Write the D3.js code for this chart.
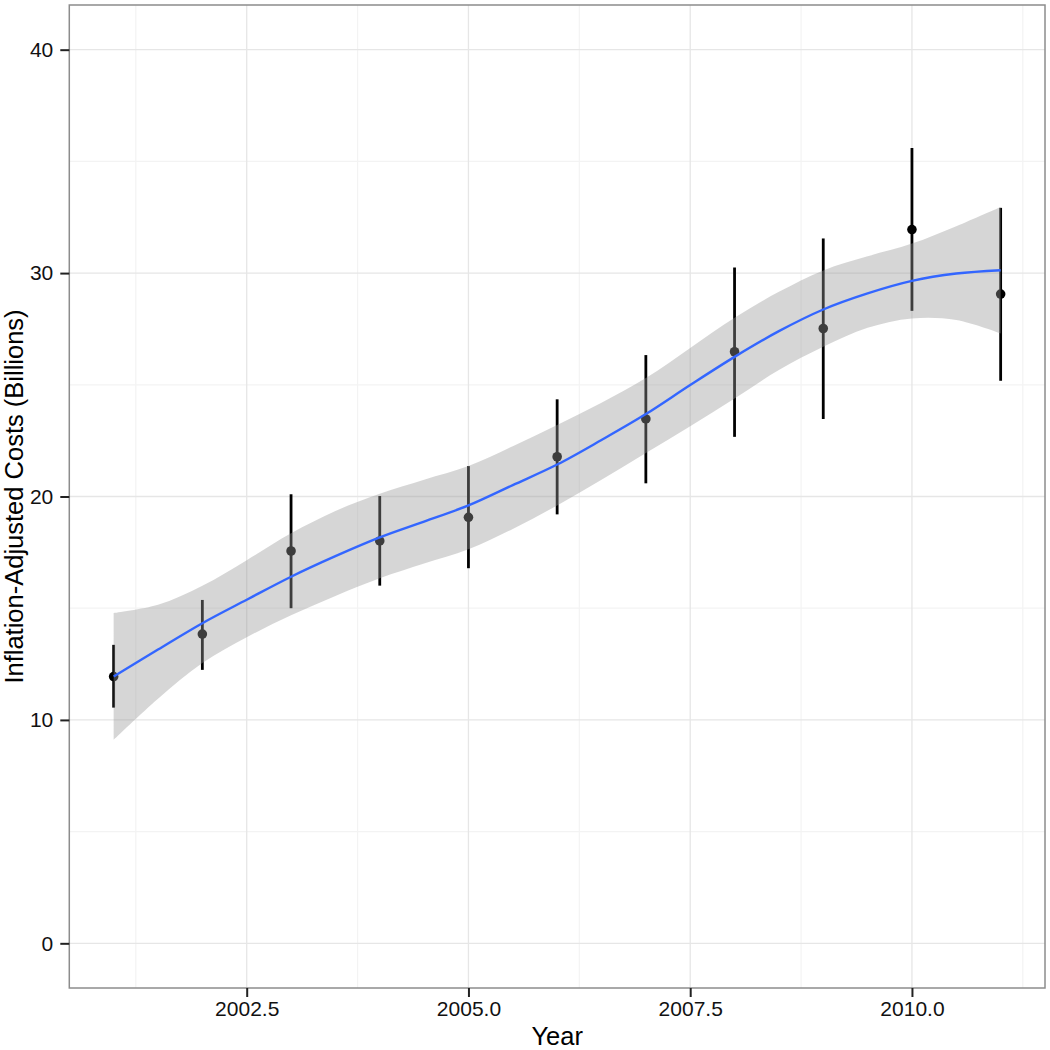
<!DOCTYPE html>
<html>
<head>
<meta charset="utf-8">
<script src="https://cdn.jsdelivr.net/npm/d3@7"></script>
<style>
  html, body { margin: 0; padding: 0; background: #fff; }
  svg { display: block; }
  text { font-family: "Liberation Sans", Arial, Helvetica, sans-serif; }
</style>
</head>
<body>
<svg id="chart" width="1050" height="1050"></svg>
<script>
// ---- data ----
const years = [2001, 2002, 2003, 2004, 2005, 2006, 2007, 2008, 2009, 2010, 2011];
const costs = [11.94, 13.84, 17.56, 18.01, 19.07, 21.78, 23.47, 26.48, 27.52, 31.95, 29.06];
const costLow = [10.55, 12.24, 15.0, 16.01, 16.79, 19.2, 20.59, 22.67, 23.47, 28.31, 25.18];
const costHigh = [13.36, 15.37, 20.1, 20.02, 21.36, 24.35, 26.33, 30.25, 31.55, 35.6, 32.92];

// loess smooth with confidence band
const smoothX = [2001, 2001.5, 2002, 2002.5, 2003, 2003.5, 2004, 2004.5, 2005, 2005.5, 2006,
                 2006.5, 2007, 2007.5, 2008, 2008.5, 2009, 2009.5, 2010, 2010.5, 2011];
const smoothFit = [11.94, 13.15, 14.33, 15.38, 16.41, 17.33, 18.17, 18.88, 19.6, 20.51, 21.43,
                   22.53, 23.69, 24.99, 26.25, 27.4, 28.37, 29.09, 29.65, 29.98, 30.13];
const smoothLow = [9.11, 10.95, 12.55, 13.7, 14.68, 15.55, 16.34, 17.0, 17.64, 18.55, 19.6,
                   20.75, 21.95, 23.15, 24.39, 25.66, 26.7, 27.55, 27.97, 27.9, 27.3];
const smoothHigh = [14.78, 15.15, 16.0, 17.15, 18.35, 19.35, 20.12, 20.75, 21.36, 22.25, 23.2,
                    24.2, 25.3, 26.65, 28.0, 29.16, 30.12, 30.75, 31.32, 32.1, 32.96];

const xTicks = [2002.5, 2005.0, 2007.5, 2010.0];
const xMinor = [2001.25, 2003.75, 2006.25, 2008.75, 2011.25];
const yTicks = [0, 10, 20, 30, 40];
const yMinor = [5, 15, 25, 35];
const xTitle = "Year";
const yTitle = "Inflation-Adjusted Costs (Billions)";

// ---- layout ----
const panel = { left: 69.3, right: 1045, top: 5, bottom: 988 };
const svg = d3.select("#chart");

const x = d3.scaleLinear().domain([2000.5, 2011.5]).range([panel.left, panel.right]);
const y = d3.scaleLinear().domain([-2, 42]).range([panel.bottom, panel.top]);

// background
svg.append("rect").attr("x", panel.left).attr("y", panel.top)
  .attr("width", panel.right - panel.left).attr("height", panel.bottom - panel.top)
  .attr("fill", "#fff");

// grid
const grid = svg.append("g");
grid.selectAll(".xmin").data(xMinor).join("line")
  .attr("x1", d => x(d)).attr("x2", d => x(d)).attr("y1", panel.top).attr("y2", panel.bottom)
  .attr("stroke", "#f3f3f3").attr("stroke-width", 1.2);
grid.selectAll(".ymin").data(yMinor).join("line")
  .attr("y1", d => y(d)).attr("y2", d => y(d)).attr("x1", panel.left).attr("x2", panel.right)
  .attr("stroke", "#f3f3f3").attr("stroke-width", 1.2);
grid.selectAll(".xmaj").data(xTicks).join("line")
  .attr("x1", d => x(d)).attr("x2", d => x(d)).attr("y1", panel.top).attr("y2", panel.bottom)
  .attr("stroke", "#e6e6e6").attr("stroke-width", 1.3);
grid.selectAll(".ymaj").data(yTicks).join("line")
  .attr("y1", d => y(d)).attr("y2", d => y(d)).attr("x1", panel.left).attr("x2", panel.right)
  .attr("stroke", "#e6e6e6").attr("stroke-width", 1.3);

// error bars and points
const pts = years.map((yr, i) => ({ yr, v: costs[i], lo: costLow[i], hi: costHigh[i] }));
svg.append("g").selectAll("line").data(pts).join("line")
  .attr("x1", d => x(d.yr)).attr("x2", d => x(d.yr))
  .attr("y1", d => y(d.lo)).attr("y2", d => y(d.hi))
  .attr("stroke", "#000").attr("stroke-width", 2.8);
svg.append("g").selectAll("circle").data(pts).join("circle")
  .attr("cx", d => x(d.yr)).attr("cy", d => y(d.v)).attr("r", 4.8)
  .attr("fill", "#000");

// ribbon
const sm = smoothX.map((s, i) => ({ s, f: smoothFit[i], lo: smoothLow[i], hi: smoothHigh[i] }));
svg.append("path").datum(sm)
  .attr("d", d3.area().x(d => x(d.s)).y0(d => y(d.lo)).y1(d => y(d.hi)).curve(d3.curveCatmullRom))
  .attr("fill", "#999999").attr("fill-opacity", 0.4);
svg.append("path").datum(sm)
  .attr("d", d3.line().x(d => x(d.s)).y(d => y(d.f)).curve(d3.curveCatmullRom))
  .attr("fill", "none").attr("stroke", "#3366FF").attr("stroke-width", 2.4);

// panel border
svg.append("rect").attr("x", panel.left).attr("y", panel.top)
  .attr("width", panel.right - panel.left).attr("height", panel.bottom - panel.top)
  .attr("fill", "none").attr("stroke", "#8c8c8c").attr("stroke-width", 1.5);

// axes
const xAxis = d3.axisBottom(x).tickValues(xTicks).tickFormat(d3.format(".1f"))
  .tickSize(9).tickPadding(4);
const gx = svg.append("g").attr("transform", `translate(0,${panel.bottom})`).call(xAxis);
gx.select(".domain").remove();
gx.selectAll(".tick line").attr("stroke", "#222").attr("stroke-width", 2);
gx.selectAll(".tick text").attr("font-size", 21).attr("fill", "#111")
  .attr("font-family", "'Liberation Sans', Arial, sans-serif").attr("dy", "0.73em");

const yAxis = d3.axisLeft(y).tickValues(yTicks).tickFormat(d3.format("d"))
  .tickSize(9).tickPadding(7);
const gy = svg.append("g").attr("transform", `translate(${panel.left},0)`).call(yAxis);
gy.select(".domain").remove();
gy.selectAll(".tick line").attr("stroke", "#222").attr("stroke-width", 2);
gy.selectAll(".tick text").attr("font-size", 21).attr("fill", "#111")
  .attr("font-family", "'Liberation Sans', Arial, sans-serif");

// titles
svg.append("text").attr("x", (panel.left + panel.right) / 2).attr("y", 1045)
  .attr("text-anchor", "middle").attr("font-size", 25.5).attr("fill", "#000").text(xTitle);
svg.append("text")
  .attr("transform", `translate(23,${(panel.top + panel.bottom) / 2}) rotate(-90)`)
  .attr("text-anchor", "middle").attr("font-size", 25.5).attr("fill", "#000").text(yTitle);
</script>
</body>
</html>
